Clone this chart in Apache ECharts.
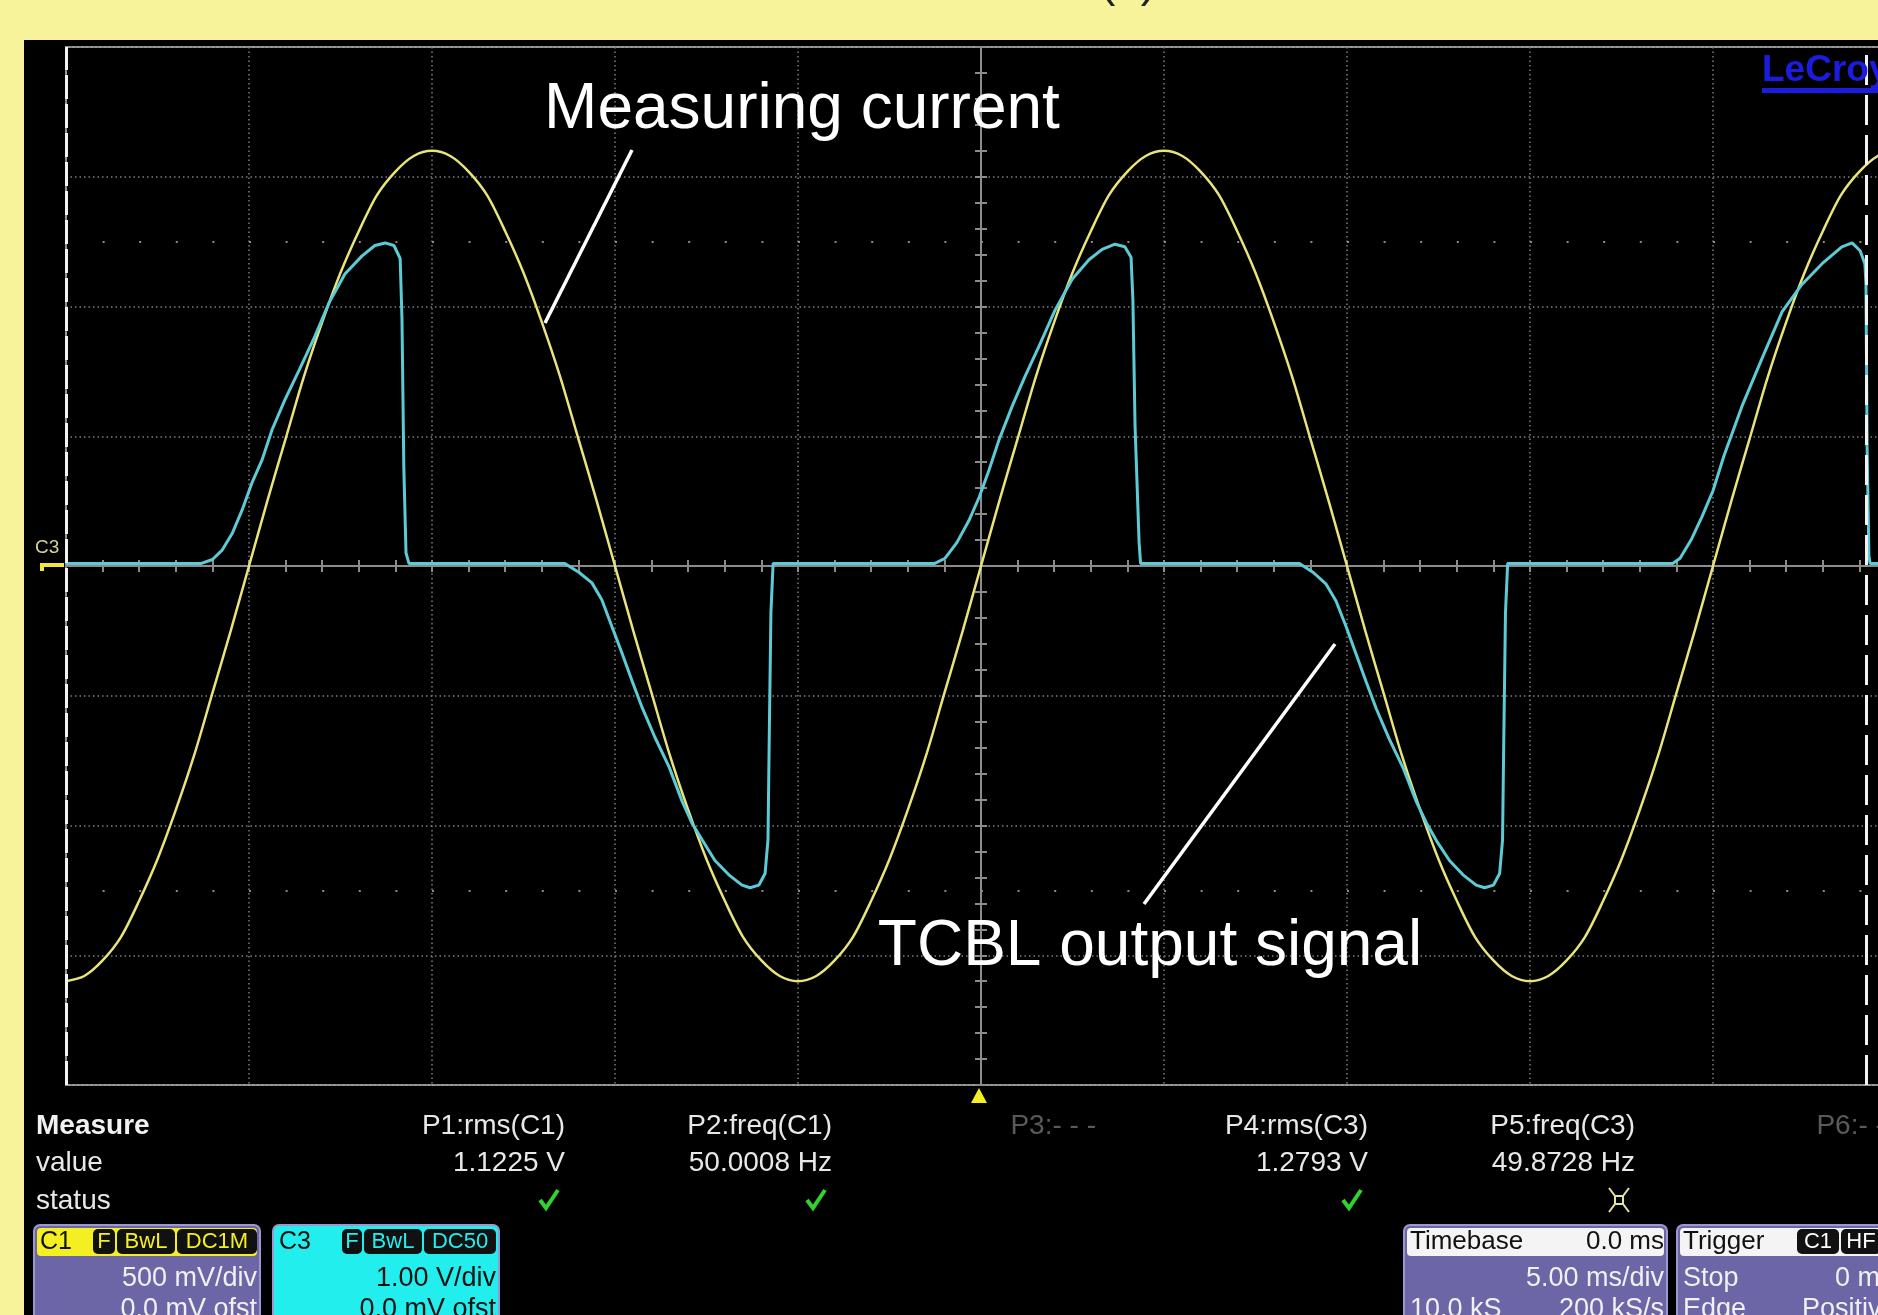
<!DOCTYPE html>
<html>
<head>
<meta charset="utf-8">
<title>TCBL output vs measuring current</title>
<script src="https://cdn.jsdelivr.net/npm/echarts@6/dist/echarts.min.js"></script>
<style>
  html, body { margin: 0; padding: 0; background: #f7f39b; }
  #scope { width: 1878px; height: 1315px; }
</style>
</head>
<body>
<div id="scope"></div>
<script>
// C1 (yellow) measuring current, 500 mV/div, time in ms (5 ms/div, trigger at 0)
const c1Time = [-25, -24.5, -24, -23.5, -23, -22.5, -22, -21.5, -21, -20.5,
  -20, -19.5, -19, -18.5, -18, -17.5, -17, -16.5, -16, -15.5,
  -15, -14.5, -14, -13.5, -13, -12.5, -12, -11.5, -11, -10.5,
  -10, -9.5, -9, -8.5, -8, -7.5, -7, -6.5, -6, -5.5,
  -5, -4.5, -4, -3.5, -3, -2.5, -2, -1.5, -1, -0.5,
  0, 0.5, 1, 1.5, 2, 2.5, 3, 3.5, 4, 4.5,
  5, 5.5, 6, 6.5, 7, 7.5, 8, 8.5, 9, 9.5,
  10, 10.5, 11, 11.5, 12, 12.5, 13, 13.5, 14, 14.5,
  15, 15.5, 16, 16.5, 17, 17.5, 18, 18.5, 19, 19.5,
  20, 20.5, 21, 21.5, 22, 22.5, 23, 23.5, 24, 24.5, 25];
const c1Volt = [-1.6, -1.58, -1.52, -1.43, -1.29, -1.13, -0.94, -0.73, -0.49, -0.25,
  0, 0.25, 0.49, 0.73, 0.94, 1.13, 1.29, 1.43, 1.52, 1.58,
  1.6, 1.58, 1.52, 1.43, 1.29, 1.13, 0.94, 0.73, 0.49, 0.25,
  0, -0.25, -0.49, -0.73, -0.94, -1.13, -1.29, -1.43, -1.52, -1.58,
  -1.6, -1.58, -1.52, -1.43, -1.29, -1.13, -0.94, -0.73, -0.49, -0.25,
  0, 0.25, 0.49, 0.73, 0.94, 1.13, 1.29, 1.43, 1.52, 1.58,
  1.6, 1.58, 1.52, 1.43, 1.29, 1.13, 0.94, 0.73, 0.49, 0.25,
  0, -0.25, -0.49, -0.73, -0.94, -1.13, -1.29, -1.43, -1.52, -1.58,
  -1.6, -1.58, -1.52, -1.43, -1.29, -1.13, -0.94, -0.73, -0.49, -0.25,
  0, 0.25, 0.49, 0.73, 0.94, 1.13, 1.29, 1.43, 1.52, 1.58, 1.6];

// C3 (cyan) TCBL output signal, 1 V/div, [ms, V]
const c3Trace = [
  [-25, 0.02], [-21.3, 0.02], [-21.0, 0.05], [-20.74, 0.12], [-20.46, 0.25], [-20.19, 0.43], [-19.92, 0.64], [-19.64, 0.82],
  [-19.37, 1.05], [-19.02, 1.28], [-18.63, 1.51], [-18.2, 1.77], [-17.81, 2.03], [-17.38, 2.25], [-16.91, 2.39], [-16.56, 2.47],
  [-16.28, 2.49], [-16.04, 2.47], [-15.87, 2.37], [-15.82, 1.9], [-15.77, 0.76], [-15.71, 0.1], [-15.63, 0.02],
  [-11.37, 0.02], [-10.98, -0.05], [-10.63, -0.13], [-10.36, -0.26], [-10.08, -0.47], [-9.81, -0.67], [-9.54, -0.88], [-9.26, -1.09],
  [-8.91, -1.32], [-8.52, -1.55], [-8.17, -1.81], [-7.9, -1.98], [-7.62, -2.11], [-7.27, -2.27], [-6.89, -2.38], [-6.53, -2.46],
  [-6.31, -2.48], [-6.07, -2.46], [-5.9, -2.37], [-5.82, -2.11], [-5.79, -1.42], [-5.74, -0.36], [-5.68, 0.02],
  [-1.26, 0.02], [-0.98, 0.06], [-0.66, 0.18], [-0.33, 0.35], [-0.05, 0.53], [0.22, 0.74], [0.49, 0.97], [0.85, 1.23],
  [1.2, 1.46], [1.58, 1.69], [2.02, 1.97], [2.49, 2.21], [2.95, 2.36], [3.31, 2.44], [3.66, 2.48], [3.93, 2.46],
  [4.1, 2.38], [4.15, 2.05], [4.21, 1.07], [4.32, 0.18], [4.36, 0.02],
  [8.7, 0.02], [9.08, -0.05], [9.43, -0.14], [9.7, -0.27], [9.98, -0.47], [10.25, -0.68], [10.52, -0.89], [10.8, -1.1],
  [11.15, -1.33], [11.54, -1.56], [11.9, -1.82], [12.17, -1.98], [12.45, -2.12], [12.8, -2.27], [13.17, -2.38], [13.53, -2.46],
  [13.76, -2.48], [14.0, -2.46], [14.17, -2.37], [14.25, -2.11], [14.28, -1.42], [14.33, -0.36], [14.39, 0.02],
  [18.9, 0.02], [19.1, 0.06], [19.4, 0.2], [19.7, 0.38], [20.0, 0.58], [20.3, 0.85], [20.79, 1.23], [21.34, 1.6],
  [21.89, 1.96], [22.43, 2.17], [22.98, 2.33], [23.52, 2.46], [23.8, 2.49], [24.02, 2.43], [24.15, 2.33], [24.18, 2.17],
  [24.21, 0.92], [24.26, 0.08], [24.29, 0.02], [25, 0.02]
];

// measurement panel
const measureNames = ['P1:rms(C1)', 'P2:freq(C1)', 'P3:- - -', 'P4:rms(C3)', 'P5:freq(C3)', 'P6:- - -'];
const measureValues = ['1.1225 V', '50.0008 Hz', '', '1.2793 V', '49.8728 Hz', ''];
const measureStatus = ['ok', 'ok', '', 'ok', 'warn', ''];

// channel / timebase / trigger boxes
const c1Tags = ['F', 'BwL', 'DC1M'];
const c1Lines = ['500 mV/div', '0.0 mV ofst'];
const c3Tags = ['F', 'BwL', 'DC50'];
const c3Lines = ['1.00 V/div', '0.0 mV ofst'];
const timebaseLines = ['0.0 ms', '5.00 ms/div', '10.0 kS', '200 kS/s'];
const triggerTags = ['C1', 'HF'];
const triggerLines = ['Stop', '0 ms', 'Edge', 'Positive'];

// annotations
const noteCurrent = 'Measuring current';
const noteOutput = 'TCBL output signal';

var chart = echarts.init(document.getElementById('scope'));

const FONT = '"Liberation Sans", Arial, sans-serif';
const GRAY = '#8c8c8c';
const PURPLE = '#6c66a6';
const YELLOW = '#f4ef22';
const CYAN = '#22eeee';

function txt(x, y, s, size, color, align, weight) {
    return {
        type: 'text', x: x, y: y, z: 20, silent: true,
        style: {
            text: s, fill: color, fontSize: size, fontFamily: FONT,
            fontWeight: weight || 'normal', textAlign: align || 'left', textVerticalAlign: 'middle'
        }
    };
}
function rect(x, y, w, h, fill, r, stroke, lw) {
    return {
        type: 'rect', z: 15, silent: true,
        shape: { x: x, y: y, width: w, height: h, r: r || 0 },
        style: { fill: fill, stroke: stroke || null, lineWidth: lw || 0 }
    };
}
function line(x1, y1, x2, y2, color, w) {
    return {
        type: 'line', z: 20, silent: true,
        shape: { x1: x1, y1: y1, x2: x2, y2: y2 },
        style: { stroke: color, lineWidth: w }
    };
}
// black rounded badges in a box header
function tags(list, xs, ws, color) {
    var out = [];
    list.forEach(function (t, i) {
        out.push(rect(xs[i], 1229, ws[i], 25, '#111', 5));
        out.push(txt(xs[i] + ws[i] / 2, 1242, t, 22, color, 'center'));
    });
    return out;
}

var g = [];
// yellow page frame
g.push(Object.assign(rect(0, 0, 1878, 40, '#f7f39b'), { z: 1 }));
g.push(Object.assign(rect(0, 0, 24, 1315, '#f7f39b'), { z: 1 }));
g.push(txt(1128, -17, '(a)', 46, '#222', 'center'));

// annotations with pointer lines
g.push(txt(802, 110, noteCurrent, 64, '#ffffff', 'center'));
g.push(line(632, 150, 545, 323, '#ffffff', 3.5));
g.push(txt(1150, 947, noteOutput, 64, '#ffffff', 'center'));
g.push(line(1144, 904, 1335, 644, '#ffffff', 3.5));

// LeCroy logo
g.push({
    type: 'text', x: 1762, y: 71, z: 12, silent: true,
    style: { text: 'LeCroy', fill: '#1c1ce0', fontSize: 37, fontWeight: 'bold', fontFamily: FONT,
        textVerticalAlign: 'middle', shadowBlur: 8, shadowColor: '#3030ff' }
});
g.push(Object.assign(rect(1762, 88, 116, 5, '#1c1ce0'), { z: 12 }));

// channel marker at left, trigger marker at bottom
g.push(txt(35, 548, 'C3', 19, '#d6d39a', 'left'));
g.push(rect(40, 563, 24, 4, '#efe83a'));
g.push(rect(40, 563, 4, 8, '#efe83a'));
g.push({ type: 'polygon', z: 20, silent: true, shape: { points: [[979, 1088], [971, 1103], [987, 1103]] }, style: { fill: YELLOW } });

// measure panel
g.push(txt(36, 1126, 'Measure', 28, '#f2f2f2', 'left', 'bold'));
g.push(txt(36, 1163, 'value', 28, '#e8e8e8', 'left'));
g.push(txt(36, 1201, 'status', 28, '#e8e8e8', 'left'));
var colRight = [565, 832, 1096, 1368, 1635, 1902];
measureNames.forEach(function (name, i) {
    var dim = measureValues[i] === '';
    g.push(txt(colRight[i], 1126, name, 28, dim ? '#5a5a5a' : '#e8e8e8', 'right'));
    if (!dim) g.push(txt(colRight[i], 1163, measureValues[i], 28, '#e8e8e8', 'right'));
    var cx = colRight[i] - 16;
    if (measureStatus[i] === 'ok') {
        g.push({ type: 'polyline', z: 20, silent: true,
            shape: { points: [[cx - 9, 1200], [cx - 3, 1208], [cx + 9, 1190]] },
            style: { stroke: '#2fd22f', lineWidth: 4, fill: null } });
    } else if (measureStatus[i] === 'warn') {
        g.push(rect(cx - 4, 1196, 8, 8, null, 0, '#e6e6a0', 2));
        g.push(line(cx - 10, 1188, cx - 4, 1196, '#e6e6a0', 2));
        g.push(line(cx + 10, 1188, cx + 4, 1196, '#e6e6a0', 2));
        g.push(line(cx - 10, 1212, cx - 4, 1204, '#e6e6a0', 2));
        g.push(line(cx + 10, 1212, cx + 4, 1204, '#e6e6a0', 2));
    }
});

// C1 box
g.push(rect(34, 1225, 226, 110, PURPLE, 6, '#9c97cf', 2));
g.push(rect(37, 1228, 220, 28, YELLOW, 4));
g.push(txt(40, 1242, 'C1', 25, '#111', 'left'));
g = g.concat(tags(c1Tags, [93, 117, 177], [22, 58, 80], YELLOW));
g.push(txt(257, 1279, c1Lines[0], 27, '#f0f0f0', 'right'));
g.push(txt(257, 1310, c1Lines[1], 27, '#f0f0f0', 'right'));

// C3 box
g.push(rect(273, 1225, 226, 110, CYAN, 6, '#9c97cf', 2));
g.push(txt(279, 1242, 'C3', 25, '#111', 'left'));
g = g.concat(tags(c3Tags, [342, 364, 424], [20, 58, 72], CYAN));
g.push(txt(496, 1279, c3Lines[0], 27, '#111', 'right'));
g.push(txt(496, 1310, c3Lines[1], 27, '#111', 'right'));

// Timebase box
g.push(rect(1404, 1225, 263, 110, PURPLE, 6, '#9c97cf', 2));
g.push(rect(1407, 1228, 257, 28, '#f4f4f4', 4));
g.push(txt(1410, 1242, 'Timebase', 26, '#111', 'left'));
g.push(txt(1664, 1242, timebaseLines[0], 26, '#111', 'right'));
g.push(txt(1664, 1279, timebaseLines[1], 27, '#f0f0f0', 'right'));
g.push(txt(1410, 1310, timebaseLines[2], 27, '#f0f0f0', 'left'));
g.push(txt(1664, 1310, timebaseLines[3], 27, '#f0f0f0', 'right'));

// Trigger box
g.push(rect(1677, 1225, 230, 110, PURPLE, 6, '#9c97cf', 2));
g.push(rect(1680, 1228, 224, 28, '#f4f4f4', 4));
g.push(txt(1683, 1242, 'Trigger', 26, '#111', 'left'));
g = g.concat(tags(triggerTags, [1797, 1841], [42, 40], '#ffffff'));
g.push(txt(1683, 1279, triggerLines[0], 27, '#f0f0f0', 'left'));
g.push(txt(1835, 1279, triggerLines[1], 27, '#f0f0f0', 'left'));
g.push(txt(1683, 1310, triggerLines[2], 27, '#f0f0f0', 'left'));
g.push(txt(1802, 1310, triggerLines[3], 27, '#f0f0f0', 'left'));

// center cross axes: two axes per direction so the ticks sit on both sides
function centerAxis(pos, min, max, interval, split) {
    return {
        type: 'value', position: pos, min: min, max: max, interval: interval,
        axisLine: { show: true, onZero: true, lineStyle: { color: GRAY, width: 2 } },
        axisTick: { show: true, inside: true, length: 6, lineStyle: { color: GRAY, width: 2 } },
        minorTick: { show: true, splitNumber: 5, length: 6, lineStyle: { color: GRAY, width: 2 } },
        axisLabel: { show: false },
        splitLine: { show: split, lineStyle: { color: '#7e7e7e', width: 1.5, type: [1.5, 3] } },
        minorSplitLine: { show: false }
    };
}

chart.setOption({
    backgroundColor: '#000000',
    animation: false,
    grid: {
        left: 66, top: 47, width: 1830, height: 1038, outerBoundsMode: 'none', containLabel: false,
        show: true, borderColor: '#9a9a9a', borderWidth: 2
    },
    xAxis: [centerAxis('bottom', -25, 25, 5, true), centerAxis('top', -25, 25, 5, false)],
    yAxis: [centerAxis('left', -2, 2, 0.5, true), centerAxis('right', -4, 4, 1, false)],
    graphic: { elements: g },
    series: [
        {
            name: 'C1', type: 'line', xAxisIndex: 0, yAxisIndex: 0, z: 3,
            data: c1Time.map(function (t, i) { return [t, c1Volt[i]]; }),
            showSymbol: false, smooth: 0.3,
            lineStyle: { color: '#e9e37c', width: 2.5 },
            markLine: {
                silent: true, symbol: 'none', label: { show: false }, animation: false,
                data: [
                    { yAxis: 1.25, lineStyle: { color: '#8a8a8a', width: 2, type: [2, 34.6] } },
                    { yAxis: -1.25, lineStyle: { color: '#8a8a8a', width: 2, type: [2, 34.6] } },
                    { xAxis: -25, lineStyle: { color: '#f2f2f2', width: 3, type: [24, 5] } },
                    { xAxis: 24.2, lineStyle: { color: '#f2f2f2', width: 3, type: [30, 10] } }
                ]
            }
        },
        {
            name: 'C3', type: 'line', xAxisIndex: 0, yAxisIndex: 1, z: 4,
            data: c3Trace,
            showSymbol: false,
            lineStyle: { color: '#5ccbd6', width: 3 }
        }
    ]
});
</script>
</body>
</html>
